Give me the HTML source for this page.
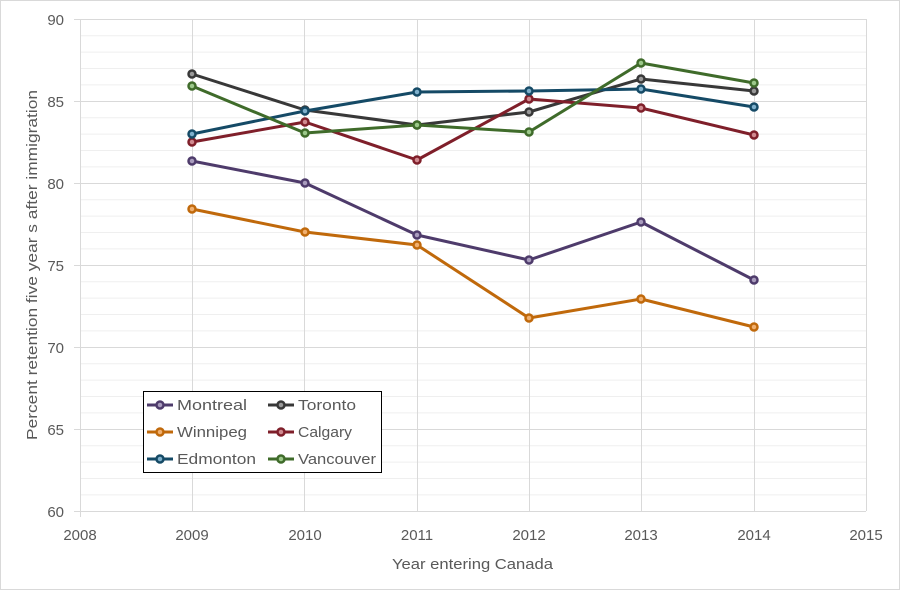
<!DOCTYPE html>
<html><head><style>body{margin:0;background:#fff}svg{display:block}text{font-family:"Liberation Sans",sans-serif;fill:#595959}</style></head><body>
<svg width="900" height="590" xmlns="http://www.w3.org/2000/svg">
<rect x="0.5" y="0.5" width="899" height="589" fill="#fff" stroke="#d9d9d9"/>
<g stroke="#efefef" stroke-width="1">
<path d="M80 35.7H866M80 52.1H866M80 68.5H866M80 84.9H866M80 117.7H866M80 134.1H866M80 150.5H866M80 166.9H866M80 199.7H866M80 216.1H866M80 232.5H866M80 248.9H866M80 281.7H866M80 298.1H866M80 314.5H866M80 330.9H866M80 363.7H866M80 380.1H866M80 396.5H866M80 412.9H866M80 445.7H866M80 462.1H866M80 478.5H866M80 494.9H866"/>
</g>
<g stroke="#d9d9d9" stroke-width="1">
<path d="M74 19.5H866M74 101.5H866M74 183.5H866M74 265.5H866M74 347.5H866M74 429.5H866M74 511.5H866"/>
<path d="M192.5 19V511M304.5 19V511M417.5 19V511M529.5 19V511M641.5 19V511M754.5 19V511M866.5 19V511M80.5 19V517"/>
</g>
<g font-size="15" text-anchor="end">
<text x="64" y="25">90</text><text x="64" y="107">85</text><text x="64" y="189">80</text><text x="64" y="271">75</text><text x="64" y="353">70</text><text x="64" y="435">65</text><text x="64" y="517">60</text>
</g>
<g font-size="15" text-anchor="middle">
<text x="80" y="540">2008</text><text x="192" y="540">2009</text><text x="305" y="540">2010</text><text x="417" y="540">2011</text><text x="529" y="540">2012</text><text x="641" y="540">2013</text><text x="754" y="540">2014</text><text x="866" y="540">2015</text>
</g>
<text x="392" y="569" font-size="15" textLength="161" lengthAdjust="spacingAndGlyphs">Year entering Canada</text>
<text transform="translate(37 440) rotate(-90)" font-size="15" textLength="350" lengthAdjust="spacingAndGlyphs">Percent retention five year s after immigration</text>
<g fill="none" stroke-width="3" stroke-linejoin="round">
<polyline stroke="#4e3b6b" points="192,161 305,183 417,235 529,260 641,222 754,280"/>
<polyline stroke="#c0690b" points="192,209 305,232 417,245 529,318 641,299 754,327"/>
<polyline stroke="#383838" points="192,74 305,110 417,125 529,112 641,79 754,91"/>
<polyline stroke="#7f1f2a" points="192,142 305,122 417,160 529,99 641,108 754,135"/>
<polyline stroke="#154a66" points="192,134 305,111 417,92 529,91 641,89 754,107"/>
<polyline stroke="#3f6b2a" points="192,86 305,133 417,125 529,132 641,63 754,83"/>
</g>
<g stroke-width="2.5">
<g stroke="#4e3b6b" fill="#a99cbd"><circle cx="192" cy="161" r="3.5"/><circle cx="305" cy="183" r="3.5"/><circle cx="417" cy="235" r="3.5"/><circle cx="529" cy="260" r="3.5"/><circle cx="641" cy="222" r="3.5"/><circle cx="754" cy="280" r="3.5"/></g>
<g stroke="#c0690b" fill="#f0b070"><circle cx="192" cy="209" r="3.5"/><circle cx="305" cy="232" r="3.5"/><circle cx="417" cy="245" r="3.5"/><circle cx="529" cy="318" r="3.5"/><circle cx="641" cy="299" r="3.5"/><circle cx="754" cy="327" r="3.5"/></g>
<g stroke="#383838" fill="#999"><circle cx="192" cy="74" r="3.5"/><circle cx="305" cy="110" r="3.5"/><circle cx="417" cy="125" r="3.5"/><circle cx="529" cy="112" r="3.5"/><circle cx="641" cy="79" r="3.5"/><circle cx="754" cy="91" r="3.5"/></g>
<g stroke="#7f1f2a" fill="#d08a90"><circle cx="192" cy="142" r="3.5"/><circle cx="305" cy="122" r="3.5"/><circle cx="417" cy="160" r="3.5"/><circle cx="529" cy="99" r="3.5"/><circle cx="641" cy="108" r="3.5"/><circle cx="754" cy="135" r="3.5"/></g>
<g stroke="#154a66" fill="#7fb0cc"><circle cx="192" cy="134" r="3.5"/><circle cx="305" cy="111" r="3.5"/><circle cx="417" cy="92" r="3.5"/><circle cx="529" cy="91" r="3.5"/><circle cx="641" cy="89" r="3.5"/><circle cx="754" cy="107" r="3.5"/></g>
<g stroke="#3f6b2a" fill="#9cc88a"><circle cx="192" cy="86" r="3.5"/><circle cx="305" cy="133" r="3.5"/><circle cx="417" cy="125" r="3.5"/><circle cx="529" cy="132" r="3.5"/><circle cx="641" cy="63" r="3.5"/><circle cx="754" cy="83" r="3.5"/></g>
</g>
<rect x="143.5" y="391.5" width="238" height="81" fill="#fff" stroke="#000"/>
<g stroke-width="3">
<line x1="147" y1="405" x2="173" y2="405" stroke="#4e3b6b"/><circle cx="160" cy="405" r="3.5" stroke="#4e3b6b" fill="#a99cbd" stroke-width="2.5"/>
<line x1="268" y1="405" x2="294" y2="405" stroke="#383838"/><circle cx="281" cy="405" r="3.5" stroke="#383838" fill="#999" stroke-width="2.5"/>
<line x1="147" y1="432" x2="173" y2="432" stroke="#c0690b"/><circle cx="160" cy="432" r="3.5" stroke="#c0690b" fill="#f0b070" stroke-width="2.5"/>
<line x1="268" y1="432" x2="294" y2="432" stroke="#7f1f2a"/><circle cx="281" cy="432" r="3.5" stroke="#7f1f2a" fill="#d08a90" stroke-width="2.5"/>
<line x1="147" y1="459" x2="173" y2="459" stroke="#154a66"/><circle cx="160" cy="459" r="3.5" stroke="#154a66" fill="#7fb0cc" stroke-width="2.5"/>
<line x1="268" y1="459" x2="294" y2="459" stroke="#3f6b2a"/><circle cx="281" cy="459" r="3.5" stroke="#3f6b2a" fill="#9cc88a" stroke-width="2.5"/>
</g>
<g font-size="15">
<text x="177" y="410" textLength="70" lengthAdjust="spacingAndGlyphs">Montreal</text><text x="298" y="410" textLength="58" lengthAdjust="spacingAndGlyphs">Toronto</text>
<text x="177" y="437" textLength="70" lengthAdjust="spacingAndGlyphs">Winnipeg</text><text x="298" y="437" textLength="54" lengthAdjust="spacingAndGlyphs">Calgary</text>
<text x="177" y="464" textLength="79" lengthAdjust="spacingAndGlyphs">Edmonton</text><text x="298" y="464" textLength="78" lengthAdjust="spacingAndGlyphs">Vancouver</text>
</g>
</svg>
</body></html>
